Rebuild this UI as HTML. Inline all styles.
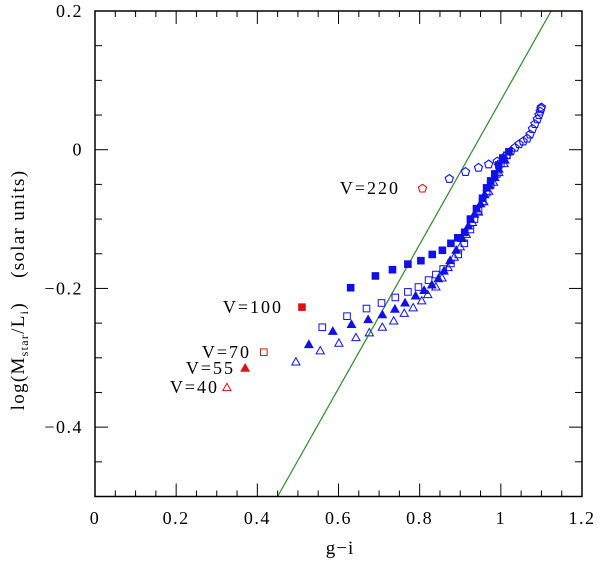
<!DOCTYPE html>
<html><head><meta charset="utf-8"><style>
html,body{margin:0;padding:0;background:#fff}
svg text{font-family:"Liberation Serif",serif;fill:#000}
</style></head><body>
<svg id="chart" width="600" height="561" xmlns="http://www.w3.org/2000/svg">
<g id="axes"></g>
<g id="marks"></g>
<text x="340" y="554" font-size="19" letter-spacing="1" text-anchor="middle">g−i</text>
<text transform="translate(24,290) rotate(-90)" font-size="19" letter-spacing="1.3" text-anchor="middle" xml:space="preserve">log(M<tspan font-size="12" dy="4">star</tspan><tspan dy="-4">/L</tspan><tspan font-size="12" dy="4">i</tspan><tspan dy="-4">)    (solar units)</tspan></text>
<text x="400" y="194" font-size="18" letter-spacing="2" text-anchor="end">V=220</text>
<text x="283" y="313" font-size="18" letter-spacing="2" text-anchor="end">V=100</text>
<text x="251" y="358" font-size="18" letter-spacing="2" text-anchor="end">V=70</text>
<text x="235" y="374" font-size="18" letter-spacing="2" text-anchor="end">V=55</text>
<text x="219" y="393" font-size="18" letter-spacing="2" text-anchor="end">V=40</text>
</svg>
<script>
const xTicks=[0,0.2,0.4,0.6,0.8,1,1.2];
const xTickLabels=["0","0.2","0.4","0.6","0.8","1","1.2"];
const yTicks=[0.2,0,-0.2,-0.4];
const yTickLabels=["0.2","0","−0.2","−0.4"];
const fitLine=[[0.45,-0.5],[1.124,0.2]];
const redX=[0.807,0.51,0.416,0.37,0.325];
const redY=[-0.056,-0.227,-0.292,-0.315,-0.343];
const redShape=["pent","sqf","sqo","trif","trio"];
const pentX=[0.873,0.913,0.945,0.970,0.991,1.006,1.015,1.025,1.035,1.045,1.055,1.065,1.072,1.078,1.084,1.09,1.094,1.097,1.099,1.1];
const pentY=[-0.042,-0.032,-0.026,-0.021,-0.017,-0.013,-0.008,-0.002,0.003,0.008,0.012,0.016,0.022,0.03,0.037,0.044,0.05,0.055,0.059,0.061];
const sqfX=[0.630,0.691,0.733,0.771,0.803,0.831,0.856,0.877,0.894,0.911,0.925,0.94,0.955,0.965,0.975,0.985,0.995,1.005,1.02];
const sqfY=[-0.199,-0.182,-0.173,-0.165,-0.160,-0.151,-0.145,-0.135,-0.127,-0.119,-0.100,-0.085,-0.07,-0.055,-0.045,-0.035,-0.022,-0.012,-0.003];
const sqoX=[0.560,0.621,0.669,0.706,0.740,0.771,0.797,0.822,0.840,0.858,0.877,0.895,0.91,0.925,0.935,0.945,0.955,0.965,0.975,0.99,1.0,1.015];
const sqoY=[-0.256,-0.240,-0.229,-0.221,-0.213,-0.205,-0.198,-0.188,-0.180,-0.172,-0.164,-0.151,-0.135,-0.115,-0.10,-0.088,-0.075,-0.062,-0.05,-0.035,-0.02,-0.008];
const trifX=[0.527,0.586,0.632,0.673,0.708,0.739,0.764,0.790,0.811,0.830,0.846,0.86,0.875,0.89,0.905,0.92,0.935,0.95,0.96,0.972,0.985,0.995,1.01];
const trifY=[-0.281,-0.262,-0.252,-0.245,-0.238,-0.230,-0.221,-0.211,-0.203,-0.195,-0.186,-0.175,-0.16,-0.145,-0.128,-0.11,-0.093,-0.078,-0.065,-0.052,-0.04,-0.028,-0.015];
const trioX=[0.495,0.555,0.601,0.643,0.676,0.708,0.736,0.762,0.784,0.805,0.820,0.840,0.855,0.87,0.885,0.90,0.915,0.93,0.945,0.958,0.97,0.982,0.995,1.008];
const trioY=[-0.306,-0.290,-0.279,-0.271,-0.264,-0.256,-0.247,-0.236,-0.228,-0.218,-0.209,-0.198,-0.185,-0.17,-0.155,-0.14,-0.122,-0.105,-0.09,-0.075,-0.06,-0.047,-0.033,-0.02];

const L=95,R=582,T=11,B=496.5;
const sx=v=>L+v/1.2*(R-L);
const sy=v=>T+(0.2-v)/0.7*(B-T);
const NS="http://www.w3.org/2000/svg";
const axes=document.getElementById('axes'),marks=document.getElementById('marks');
function mk(tag,attrs,parent){const e=document.createElementNS(NS,tag);for(const k in attrs)e.setAttribute(k,attrs[k]);parent.appendChild(e);return e;}
const fl=mk('line',{x1:sx(fitLine[0][0]),y1:sy(fitLine[0][1]),x2:sx(fitLine[1][0]),y2:sy(fitLine[1][1]),stroke:'#2a8a2a','stroke-width':1.2},axes);


const fr=mk('rect',{x:L,y:T,width:R-L,height:B-T,fill:'none',stroke:'#000','stroke-width':1.5},axes);


for(let i=0;i<=24;i++){const v=i*0.05,x=sx(v),len=(i%4===0)?13:6;
 mk('line',{x1:x,y1:B,x2:x,y2:B-len,stroke:'#000','stroke-width':1},axes);
 mk('line',{x1:x,y1:T,x2:x,y2:T+len,stroke:'#000','stroke-width':1},axes);}
for(let i=0;i<=14;i++){const v=0.2-i*0.05,y=sy(v),len=(i%4===0)?13:7;
 mk('line',{x1:L,y1:y,x2:L+len,y2:y,stroke:'#000','stroke-width':1},axes);
 mk('line',{x1:R,y1:y,x2:R-len,y2:y,stroke:'#000','stroke-width':1},axes);}
xTicks.forEach((v,i)=>{const t=mk('text',{x:sx(v),y:524,'font-size':18,'letter-spacing':1.5,'text-anchor':'middle'},axes);t.textContent=xTickLabels[i];
 
 });
yTicks.forEach((v,i)=>{const t=mk('text',{x:83,y:sy(v)+6,'font-size':18,'letter-spacing':1.5,'text-anchor':'end'},axes);t.textContent=yTickLabels[i];
 
 });
function marker(shape,x,y,col){const cx=sx(x),cy=sy(y);let e;
 if(shape==='sqf'||shape==='sqo'){e=mk('rect',{x:cx-3.3,y:cy-3.3,width:6.6,height:6.6,fill:shape==='sqf'?col:'none',stroke:col,'stroke-width':1},marks);}
 else if(shape==='trif'||shape==='trio'){e=mk('polygon',{points:`${cx},${cy-4.3} ${cx+4.1},${cy+3} ${cx-4.1},${cy+3}`,fill:shape==='trif'?col:'none',stroke:col,'stroke-width':1},marks);}
 else {let p=[];for(let k=0;k<5;k++){const a=-Math.PI/2+k*2*Math.PI/5;p.push((cx+4.3*Math.cos(a)).toFixed(1)+','+(cy+4.3*Math.sin(a)).toFixed(1));}
  e=mk('polygon',{points:p.join(' '),fill:'none',stroke:col,'stroke-width':1.1},marks);}
 return e;}
const blue='#1010e8',red='#e01010';
[[pentX,pentY,'pent'],[sqfX,sqfY,'sqf'],[sqoX,sqoY,'sqo'],[trifX,trifY,'trif'],[trioX,trioY,'trio']].forEach(([xs,ys,s])=>{
 xs.forEach((x,i)=>{const e=marker(s,x,ys[i],blue);
  
  });});
redX.forEach((x,i)=>{const e=marker(redShape[i],x,redY[i],red);
 
 });
</script>
</body></html>
